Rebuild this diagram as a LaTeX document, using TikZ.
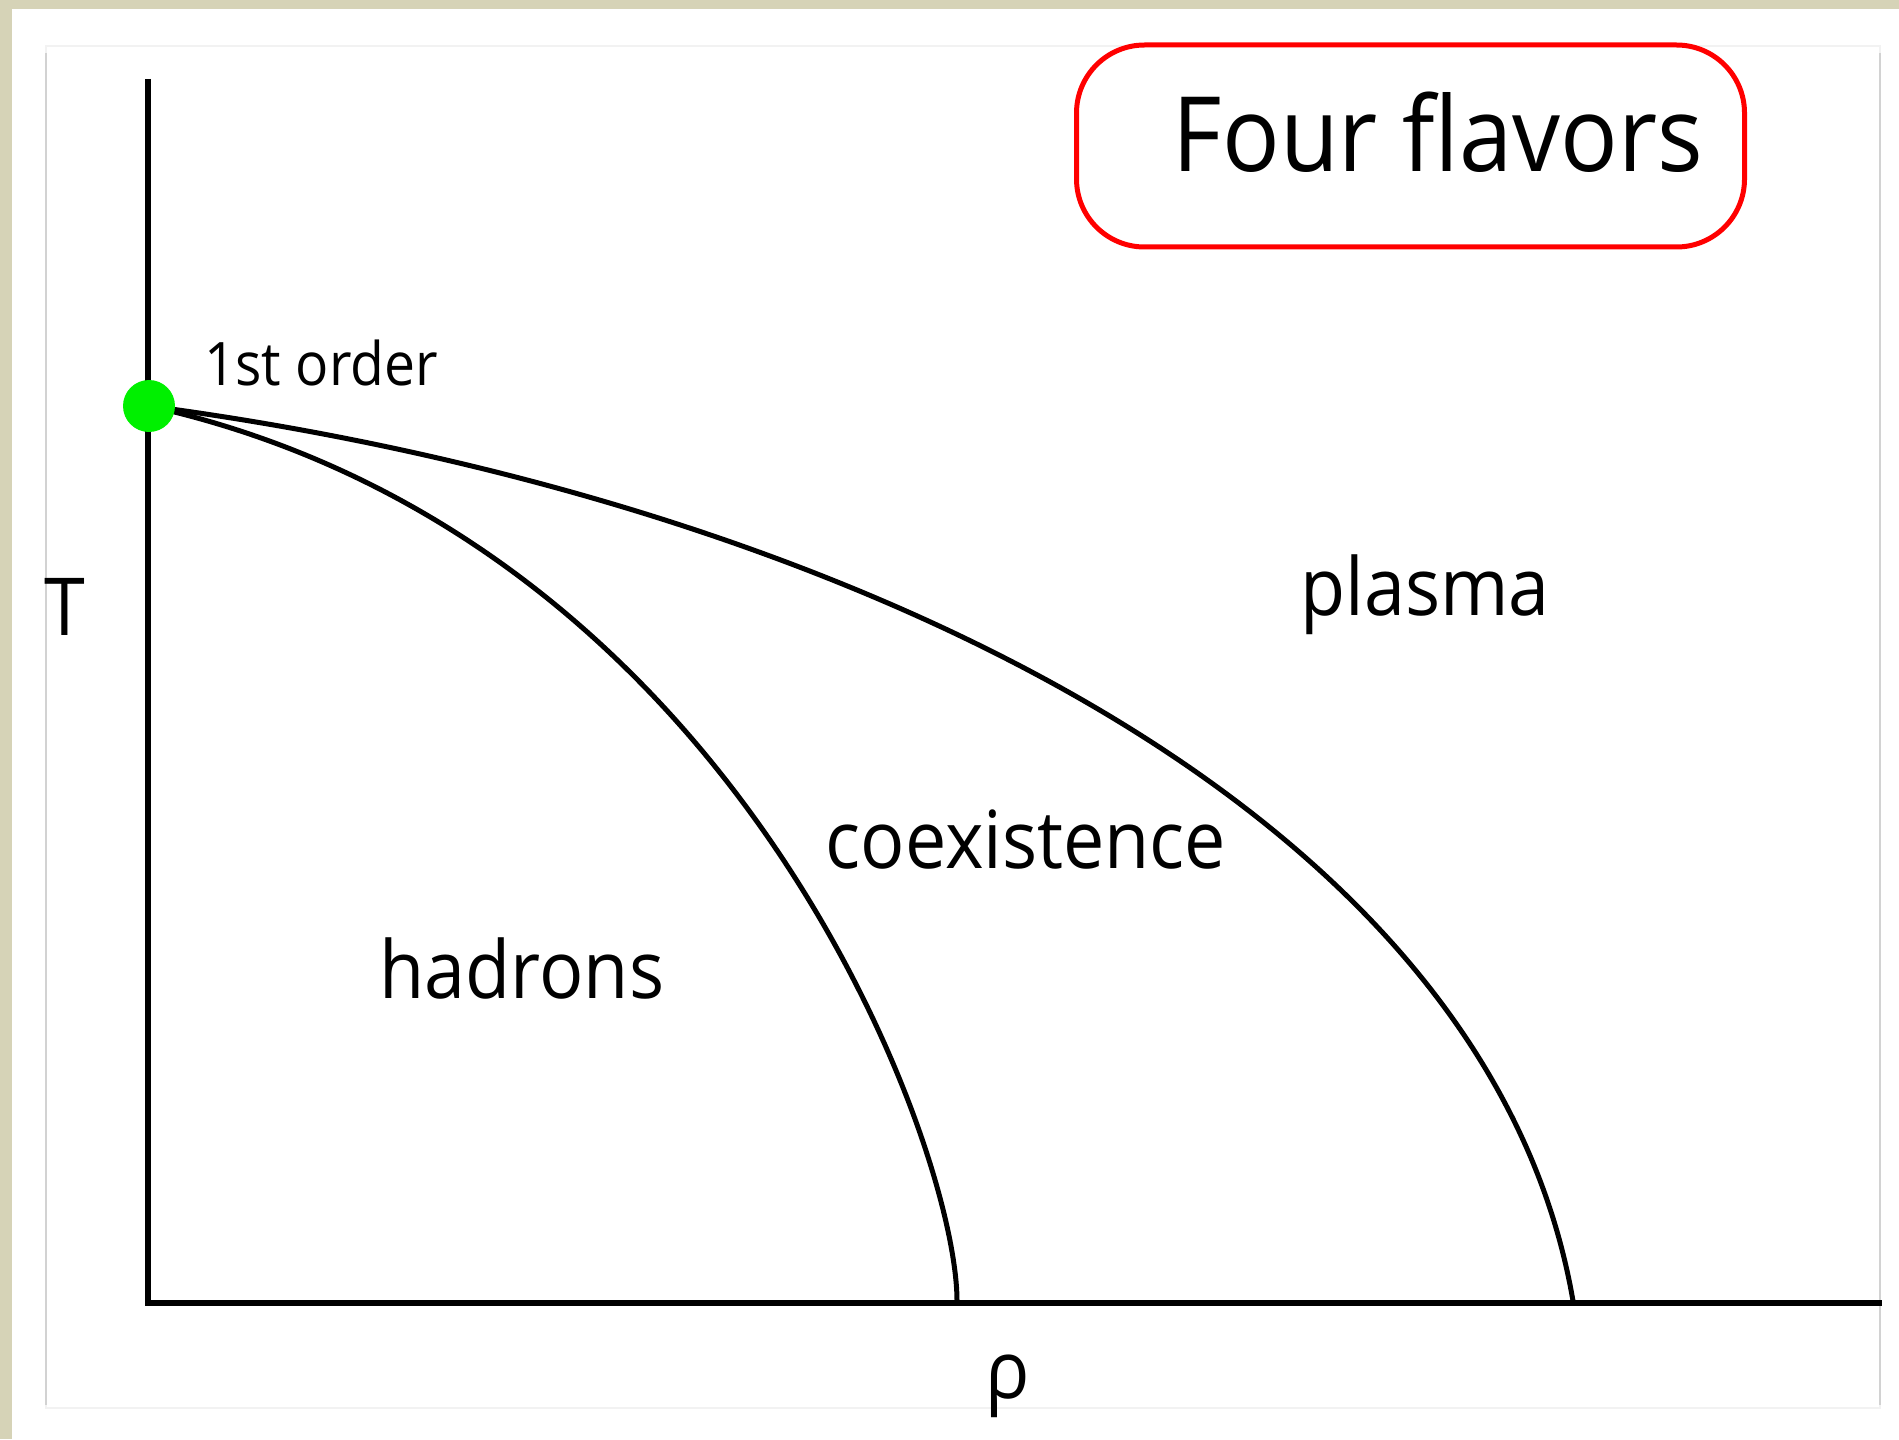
\documentclass[tikz,border=0pt]{standalone}
\usepackage{fontspec}
\setmainfont[FakeStretch=0.92]{Open Sans}
\definecolor{beige}{RGB}{214,211,183}
\definecolor{dotgreen}{RGB}{0,240,0}
\begin{document}
\begin{tikzpicture}[x=0.5pt,y=-0.5pt,
  axis/.style={line width=3.2pt, line join=miter},
  boundary/.style={line width=2.5pt},
  region/.style={anchor=base, inner sep=0pt, font=\fontsize{40}{48}\selectfont},
  greendot/.style={circle, fill=dotgreen, minimum size=26pt, inner sep=0pt},
  titlebox/.style={draw=red, line width=2.5pt, rounded corners=34pt, minimum width=334pt, minimum height=101pt, inner sep=0pt}
]
\useasboundingbox (0,0) rectangle (1899,1439);
% background
\fill[white] (0,0) rectangle (1899,1439);
\fill[beige] (0,0) rectangle (1899,9);
\fill[beige] (0,0) rectangle (12,1439);
\draw[gray!10, line width=0.8pt] (46,46) rectangle (1880,1408);
\draw[gray!35, line width=1pt] (46,53) -- (46,1405);
\draw[gray!35, line width=1pt] (1880,53) -- (1880,1405);
% title
\node[titlebox] (tbox) at (1410.5,146) {};
\node[anchor=base, inner sep=0pt, font=\fontsize{52}{60}\selectfont] (title) at (1438,172) {Four flavors};
% axes
\coordinate (ytop) at (148,79);
\coordinate (origin) at (148,1303);
\coordinate (xend) at (1882,1303);
\draw[axis] (ytop) -- (origin) -- (xend);
% critical point and phase boundaries
\coordinate (crit) at (149,406);
\coordinate (innerfoot) at (957,1301);
\coordinate (outerfoot) at (1573,1301);
\draw[boundary] (crit) .. controls (735,536) and (957,1146) .. (innerfoot);
\draw[boundary] (crit) .. controls (800,492) and (1485,790) .. (outerfoot);
\node[greendot] (dot) at (crit) {};
% labels
\node[anchor=base, inner sep=0pt, font=\fontsize{30}{36}\selectfont] (order) at (321,385) {1st order};
\node[region] (T) at (65,635) {T};
\node[region] (rho) at (1008,1398) {ρ};
\node[region] (hadrons) at (522,998) {hadrons};
\node[region] (coex) at (1026,868) {coexistence};
\node[region] (plasma) at (1425,615) {plasma};
\end{tikzpicture}
\end{document}
